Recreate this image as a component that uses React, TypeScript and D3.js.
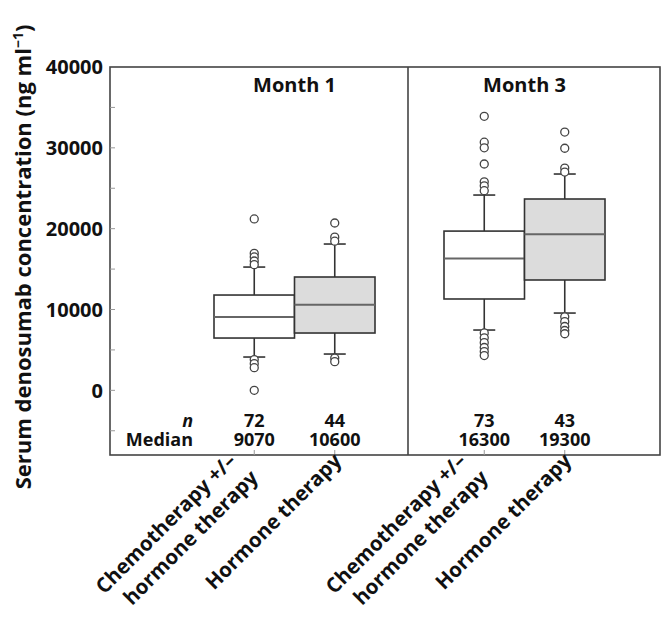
import React from "react";
import * as d3 from "d3";

// ---- data ----
const panels = ["Month 1", "Month 3"];
const groups = ["chemo", "hormone"];
const groupLabelLines = [["Chemotherapy +/–", "hormone therapy"], ["Hormone therapy"]];
const nValues = [[72, 44], [73, 43]];
const medians = [[9070, 10600], [16300, 19300]];
const q1 = [[6470, 7090], [11300, 13650]];
const q3 = [[11790, 14020], [19700, 23670]];
const whiskerLow = [[4120, 4490], [7460, 9560]];
const whiskerHigh = [[15250, 18100], [24160, 26760]];
const outliersM1Chemo = [21200, 16950, 16500, 16000, 15550, 3800, 3300, 2800, 0];
const outliersM1Hormone = [20700, 18950, 18450, 4000, 3550];
const outliersM3Chemo = [33900, 30700, 30000, 28000, 25800, 25300, 24700, 7100, 6500, 5900, 5300, 4800, 4300];
const outliersM3Hormone = [31950, 29950, 27500, 27000, 9100, 8500, 7900, 7400, 7000];
const outliers = [[outliersM1Chemo, outliersM1Hormone], [outliersM3Chemo, outliersM3Hormone]];
const yLabelTicks = [0, 10000, 20000, 30000, 40000];
const yMinorTicks = [-5000, 0, 5000, 10000, 15000, 20000, 25000, 30000, 35000];
const boxFills = ["#ffffff", "#dcdcdc"];

// ---- layout ----
const W = 662, H = 628;
const frameL = 110, frameR = 660, frameT = 67, frameB = 455, divider = 408;
const panelRanges: [number, number][] = [[214, 375], [444, 605]];
const font = "'Open Sans', 'DejaVu Sans', sans-serif";

export default function App() {
  const y = d3.scaleLinear().domain([-8000, 40000]).range([frameB, frameT]);
  const xs = panelRanges.map((r) => d3.scaleBand<string>().domain(groups).range(r).paddingInner(0).paddingOuter(0));
  const capW = 22;
  const stroke = "#333";

  return (
    <svg width={W} height={H} style={{ position: "absolute", left: 0, top: 0, background: "#fff" }}
      fontFamily={font} fontWeight={700}>
      {/* frame */}
      <rect x={frameL} y={frameT} width={frameR - frameL} height={frameB - frameT} fill="none" stroke="#444" strokeWidth={1.6} />
      <line x1={divider} x2={divider} y1={frameT} y2={frameB} stroke="#444" strokeWidth={1.6} />

      {/* y ticks */}
      {yMinorTicks.map((t) => (
        <line key={"yt" + t} x1={frameL} x2={frameL + 5} y1={y(t)} y2={y(t)} stroke="#999" strokeWidth={1} />
      ))}
      {yLabelTicks.map((t) => (
        <text key={"yl" + t} x={103} y={y(t)} dy="0.36em" textAnchor="end" fontSize={20} fill="#111">{t}</text>
      ))}
      <text transform={`translate(31, 257) rotate(-90)`} textAnchor="middle" fontSize={22} fill="#111">
        Serum denosumab concentration (ng ml<tspan dy="-8" fontSize={14}>−1</tspan><tspan dy="8">)</tspan>
      </text>

      {/* n / Median labels */}
      <text x={193} y={427} textAnchor="end" fontSize={18} fontStyle="italic" fill="#111">n</text>
      <text x={193} y={446} textAnchor="end" fontSize={18} fill="#111">Median</text>

      {panels.map((p, pi) => {
        const x = xs[pi];
        const bw = x.bandwidth();
        const r = panelRanges[pi];
        return (
          <g key={p}>
            <text x={(r[0] + r[1]) / 2} y={92} textAnchor="middle" fontSize={20} fill="#111">{p}</text>
            {groups.map((g, gi) => {
              const x0 = x(g)!;
              const cx = x0 + bw / 2;
              return (
                <g key={g}>
                  {/* whiskers */}
                  <line x1={cx} x2={cx} y1={y(q3[pi][gi])} y2={y(whiskerHigh[pi][gi])} stroke={stroke} strokeWidth={1.6} />
                  <line x1={cx} x2={cx} y1={y(q1[pi][gi])} y2={y(whiskerLow[pi][gi])} stroke={stroke} strokeWidth={1.6} />
                  <line x1={cx - capW / 2} x2={cx + capW / 2} y1={y(whiskerHigh[pi][gi])} y2={y(whiskerHigh[pi][gi])} stroke={stroke} strokeWidth={1.6} />
                  <line x1={cx - capW / 2} x2={cx + capW / 2} y1={y(whiskerLow[pi][gi])} y2={y(whiskerLow[pi][gi])} stroke={stroke} strokeWidth={1.6} />
                  {/* box */}
                  <rect x={x0} y={y(q3[pi][gi])} width={bw} height={y(q1[pi][gi]) - y(q3[pi][gi])}
                    fill={boxFills[gi]} stroke={stroke} strokeWidth={1.6} />
                  <line x1={x0} x2={x0 + bw} y1={y(medians[pi][gi])} y2={y(medians[pi][gi])} stroke="#666" strokeWidth={2} />
                  {/* outliers */}
                  {outliers[pi][gi].map((v, k) => (
                    <circle key={k} cx={cx} cy={y(v)} r={4} fill="#fff" stroke="#444" strokeWidth={1.3} />
                  ))}
                  {/* n and median */}
                  <text x={cx} y={427} textAnchor="middle" fontSize={18} fill="#111">{nValues[pi][gi]}</text>
                  <text x={cx} y={446} textAnchor="middle" fontSize={18} fill="#111">{medians[pi][gi]}</text>
                  {/* bottom tick */}
                  <line x1={cx} x2={cx} y1={frameB} y2={frameB - 5} stroke="#999" strokeWidth={1} />
                  {/* category label */}
                  {groupLabelLines[gi].map((line, li) => {
                    const n = groupLabelLines[gi].length;
                    const ax = n === 1 ? cx + 8 : cx - 17 + li * 22;
                    const ay = n === 1 ? 462 : 462 + li * 17;
                    return (
                      <text key={li} transform={`translate(${ax}, ${ay}) rotate(-45)`} textAnchor="end" fontSize={20.5} fill="#111">{line}</text>
                    );
                  })}
                </g>
              );
            })}
          </g>
        );
      })}
    </svg>
  );
}
